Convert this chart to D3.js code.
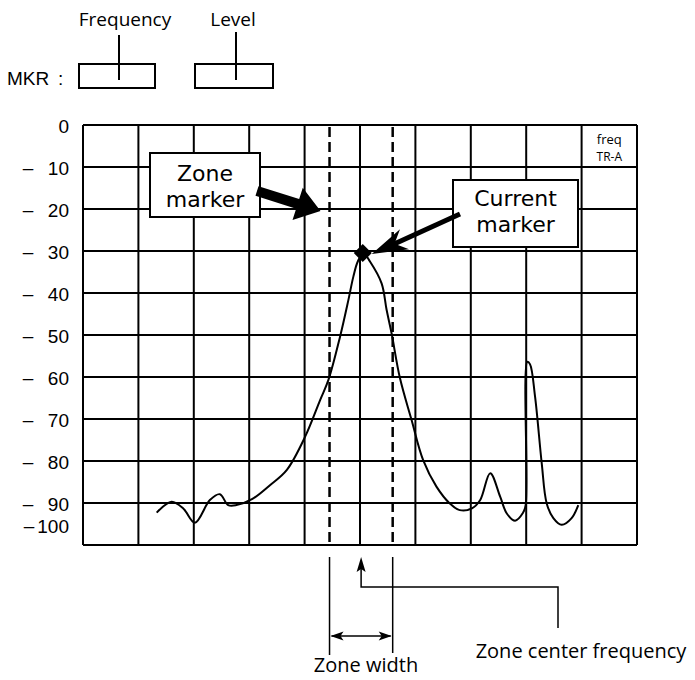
<!DOCTYPE html>
<html>
<head>
<meta charset="utf-8">
<script src="https://cdn.jsdelivr.net/npm/d3@7"></script>
<style>
  html, body { margin: 0; padding: 0; background: #fff; }
  svg { display: block; }
</style>
</head>
<body>
<svg id="chart" width="695" height="680"></svg>
<script>
// ---- data ----
const xDivisions = [0,1,2,3,4,5,6,7,8,9,10];
const yTicks = [0,-10,-20,-30,-40,-50,-60,-70,-80,-90,-100];
const traceFreq = [1.33,1.60,1.81,2.02,2.29,2.47,2.62,2.77,3.05,3.38,3.68,4.01,4.28,4.43,4.64,4.79,4.88,4.96,5.06,5.18,5.39,5.48,5.57,5.72,5.93,6.14,6.38,6.62,6.80,7.02,7.17,7.35,7.53,7.65,7.80,7.94,7.99,8.02,8.07,8.16,8.28,8.37,8.49,8.64,8.82,8.94];
const traceLevel = [-92.3,-89.7,-91.3,-94.7,-89.3,-87.9,-90.5,-90.5,-89.1,-85.7,-82.1,-74.2,-65.5,-60.7,-50.4,-41.7,-36.1,-32.5,-30.5,-32.5,-37.7,-44.0,-49.6,-60.2,-70.2,-79.8,-86.1,-90.1,-91.7,-91.3,-89.3,-82.9,-88.5,-92.5,-94.2,-92.4,-90.5,-56.4,-57.0,-64.7,-80.5,-90.1,-93.6,-95.2,-93.6,-90.5];
const zoneLeft = 4.45, zoneRight = 5.59, zoneCenter = 5.02;
const markerFreq = 5.05, markerLevel = -30.5;
const topLabels = ["Frequency", "Level"];
const cornerLabel = ["freq", "TR-A"];

// ---- scales ----
const x = d3.scaleLinear().domain([0, 10]).range([83, 637]);
const y = d3.scaleLinear().domain([0, -100]).range([125, 545]);

const svg = d3.select("#chart");
const SANS = "'Open Sans', sans-serif";
const CALL = "'DejaVu Sans', sans-serif";
const HELV = "'Liberation Sans', Arial, sans-serif";

// ---- MKR header ----
svg.append("text").attr("x", 7).attr("y", 85).attr("font-family", HELV).attr("font-size", 19).text("MKR");
svg.append("text").attr("x", 58).attr("y", 85).attr("font-family", HELV).attr("font-size", 19).text(":");
const hdr = [{label: topLabels[0], cx: 125, bx: 79, bw: 76, lx: 119, ly: 35},
             {label: topLabels[1], cx: 233, bx: 195, bw: 78, lx: 236, ly: 32}];
hdr.forEach(h => {
  svg.append("text").attr("x", h.cx).attr("y", 26).attr("text-anchor", "middle")
    .attr("font-family", SANS).attr("font-size", 19).text(h.label);
  svg.append("rect").attr("x", h.bx).attr("y", 64).attr("width", h.bw).attr("height", 24)
    .attr("fill", "none").attr("stroke", "#000").attr("stroke-width", 2);
  svg.append("line").attr("x1", h.lx).attr("x2", h.lx).attr("y1", h.ly).attr("y2", 80)
    .attr("stroke", "#000").attr("stroke-width", 2);
});

// ---- grid ----
const grid = svg.append("g");
grid.selectAll("line.v").data(xDivisions).enter().append("line")
  .attr("x1", d => x(d)).attr("x2", d => x(d)).attr("y1", y(0)).attr("y2", y(-100))
  .attr("stroke", "#000").attr("stroke-width", 2);
grid.selectAll("line.h").data(yTicks).enter().append("line")
  .attr("x1", x(0)).attr("x2", x(10)).attr("y1", d => y(d)).attr("y2", d => y(d))
  .attr("stroke", "#000").attr("stroke-width", 2);

// ---- y labels ----
const yl = svg.append("g").attr("font-family", HELV).attr("font-size", 19).attr("fill", "#000");
yTicks.forEach(v => {
  const by = y(v) + (v === -100 ? -12 : 8);
  yl.append("text").attr("x", 69).attr("y", by).attr("text-anchor", "end").text(Math.abs(v));
  if (v !== 0) {
    yl.append("text").attr("x", v === -100 ? 29 : 28).attr("y", by - 1).attr("text-anchor", "middle").text("\u2013");
  }
});

// ---- corner label ----
svg.append("text").attr("x", x(9.5)).attr("y", 144).attr("text-anchor", "middle")
  .attr("font-family", SANS).attr("font-size", 13).text(cornerLabel[0]);
svg.append("text").attr("x", x(9.5)).attr("y", 161).attr("text-anchor", "middle")
  .attr("font-family", SANS).attr("font-size", 12).text(cornerLabel[1]);

// ---- zone dashed lines ----
[zoneLeft, zoneRight].forEach(z => {
  svg.append("line").attr("x1", x(z)).attr("x2", x(z)).attr("y1", y(0) + 2).attr("y2", y(-100) - 2)
    .attr("stroke", "#000").attr("stroke-width", 2.5).attr("stroke-dasharray", "10,5");
});

// ---- trace ----
const pts = traceFreq.map((f, i) => [f, traceLevel[i]]);
svg.append("path").datum(pts)
  .attr("d", d3.line().x(d => x(d[0])).y(d => y(d[1])).curve(d3.curveCatmullRom.alpha(0.5)))
  .attr("fill", "none").attr("stroke", "#000").attr("stroke-width", 2);

// ---- current marker diamond ----
const mx = x(markerFreq), my = y(markerLevel);
svg.append("path").attr("d", `M${mx},${my-9}L${mx+9},${my}L${mx},${my+9}L${mx-9},${my}Z`).attr("fill", "#000");

// ---- callout helper ----
function callout(bx, by, bw, bh, lines, firstBaseline, step) {
  svg.append("rect").attr("x", bx).attr("y", by).attr("width", bw).attr("height", bh)
    .attr("fill", "#fff").attr("stroke", "#000").attr("stroke-width", 2);
  lines.forEach((s, i) => svg.append("text").attr("text-anchor", "middle").attr("font-family", CALL)
    .attr("font-size", 22).attr("x", bx + bw / 2).attr("y", firstBaseline + i * step).text(s));
}
callout(150, 153, 110, 64, ["Zone", "marker"], 181, 26);
callout(453, 180, 125, 67, ["Current", "marker"], 206, 26);

// zone marker arrow (thick, filled head)
(function () {
  const S = [257, 191], T = [x(zoneLeft) - 9, y(-20.5)];
  const dx = T[0] - S[0], dy = T[1] - S[1], L = Math.hypot(dx, dy);
  const u = [dx / L, dy / L], n = [-u[1], u[0]];
  const hl = 24, hw = 17, sw = 5;
  const B = [T[0] - hl * u[0], T[1] - hl * u[1]];
  const p = [
    [S[0] + sw * n[0], S[1] + sw * n[1]],
    [B[0] + sw * n[0], B[1] + sw * n[1]],
    [B[0] + hw * n[0], B[1] + hw * n[1]],
    T,
    [B[0] - hw * n[0], B[1] - hw * n[1]],
    [B[0] - sw * n[0], B[1] - sw * n[1]],
    [S[0] - sw * n[0], S[1] - sw * n[1]]
  ];
  svg.append("path").attr("d", "M" + p.map(q => q.join(",")).join("L") + "Z").attr("fill", "#000");
})();

// current marker arrow (barbed head)
(function () {
  const S = [460, 214], T = [mx + 9, my + 1];
  const dx = S[0] - T[0], dy = S[1] - T[1], L = Math.hypot(dx, dy);
  const u = [dx / L, dy / L], n = [-u[1], u[0]];
  svg.append("line").attr("x1", S[0]).attr("y1", S[1])
    .attr("x2", T[0] + 24 * u[0]).attr("y2", T[1] + 24 * u[1])
    .attr("stroke", "#000").attr("stroke-width", 5);
  const at = (a, b) => [T[0] + a * u[0] + b * n[0], T[1] + a * u[1] + b * n[1]];
  const p = [T, at(36, 11), at(25, 0), at(36, -11)];
  svg.append("path").attr("d", "M" + p.map(q => q.join(",")).join("L") + "Z").attr("fill", "#000");
})();

// ---- bottom annotations ----
const xl = x(zoneLeft), xr = x(zoneRight), xc = x(zoneCenter);
svg.append("line").attr("x1", xl).attr("x2", xl).attr("y1", 557).attr("y2", 655).attr("stroke", "#000").attr("stroke-width", 1.5);
svg.append("line").attr("x1", xr).attr("x2", xr).attr("y1", 557).attr("y2", 653).attr("stroke", "#000").attr("stroke-width", 1.5);
// zone width double arrow
const ay = 636;
svg.append("line").attr("x1", xl + 2).attr("x2", xr - 2).attr("y1", ay).attr("y2", ay).attr("stroke", "#000").attr("stroke-width", 1.5);
svg.append("path").attr("d", `M${xl+1},${ay}L${xl+14},${ay-4.5}L${xl+11},${ay}L${xl+14},${ay+4.5}Z`).attr("fill", "#000");
svg.append("path").attr("d", `M${xr-1},${ay}L${xr-14},${ay-4.5}L${xr-11},${ay}L${xr-14},${ay+4.5}Z`).attr("fill", "#000");
// zone center arrow
const cx2 = 558;
svg.append("path").attr("d", `M${xc},${568}L${xc},${587}L${cx2},${587}L${cx2},${628}`)
  .attr("fill", "none").attr("stroke", "#000").attr("stroke-width", 1.5);
svg.append("path").attr("d", `M${xc},557L${xc+4.5},572L${xc},569L${xc-4.5},572Z`).attr("fill", "#000");

svg.append("text").attr("x", 366).attr("y", 672).attr("text-anchor", "middle")
  .attr("font-family", SANS).attr("font-size", 20).text("Zone width");
svg.append("text").attr("x", 581).attr("y", 658).attr("text-anchor", "middle")
  .attr("font-family", SANS).attr("font-size", 20).text("Zone center frequency");
</script>
</body>
</html>
